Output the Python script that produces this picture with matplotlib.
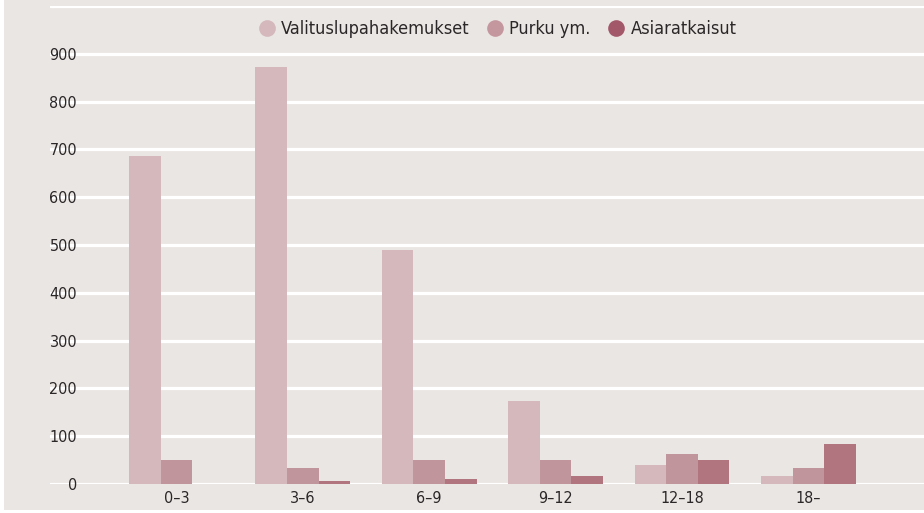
import matplotlib.pyplot as plt
import numpy as np
from matplotlib import font_manager
from matplotlib.lines import Line2D
from matplotlib.patches import Rectangle

# data
categories = ['0–3', '3–6', '6–9', '9–12', '12–18', '18–']
series_names = ['Valituslupahakemukset', 'Purku ym.', 'Asiaratkaisut']
valitus = [686, 872, 490, 174, 40, 17]
purku = [50, 33, 50, 50, 63, 33]
asia = [0, 6, 10, 17, 50, 84]
y_ticks = [0, 100, 200, 300, 400, 500, 600, 700, 800, 900, 1000]
y_labels = ['0', '100', '200', '300', '400', '500', '600', '700', '800', '900', '']

bar_colors = ['#D4B8BC', '#C0959B', '#B0757F']
legend_colors = ['#D4B8BC', '#C4979E', '#A3586A']
bg = '#EAE6E3'
text_col = '#2B2728'

# look for a narrow / condensed face, the reference uses a condensed font
narrow = None
for f in font_manager.fontManager.ttflist:
    if f.name == 'Liberation Sans Narrow' and f.weight in (400, 'normal', 'regular'):
        narrow = font_manager.FontProperties(fname=f.fname)
        break
if narrow is None:
    for f in font_manager.fontManager.ttflist:
        if 'condensed' in str(f.stretch).lower() and f.style == 'normal' \
                and f.weight in (400, 'normal', 'regular'):
            narrow = font_manager.FontProperties(fname=f.fname)
            break
if narrow is None:
    narrow = font_manager.FontProperties(family='DejaVu Sans')

W, H = 924, 513
fig = plt.figure(figsize=(W / 100, H / 100), dpi=100)
fig.patch.set_facecolor('white')
fig.patches.append(Rectangle((4 / W, 3 / H), 1, 1, transform=fig.transFigure,
                             facecolor=bg, edgecolor='none', zorder=-10))

ax = fig.add_axes([50 / W, 29 / H, 874 / W, 478 / H])
ax.set_facecolor('none')

x = np.arange(len(categories))
width = 0.25
for i, vals in enumerate([valitus, purku, asia]):
    ax.bar(x + (i - 1) * width, vals, width, color=bar_colors[i],
           linewidth=0, zorder=2)

ax.set_xlim(-1.0, 5.915)
ax.set_ylim(0, 1000)
ax.set_yticks(y_ticks)
ax.set_yticklabels(y_labels)
ax.set_xticks(x)
ax.set_xticklabels(categories)
ax.yaxis.grid(True, color='white', linewidth=2.3, zorder=1)
ax.set_axisbelow(True)
for s in ax.spines.values():
    s.set_visible(False)
ax.tick_params(axis='y', length=0, pad=-19.5, labelcolor=text_col)
ax.tick_params(axis='x', length=0, pad=5, labelcolor=text_col)
for t in ax.get_yticklabels() + ax.get_xticklabels():
    t.set_fontproperties(narrow)
    t.set_fontsize(11.5)
for t in ax.get_yticklabels():
    t.set_horizontalalignment('right')

handles = [Line2D([], [], marker='o', linestyle='none', markersize=12,
                  markerfacecolor=c, markeredgecolor='none') for c in legend_colors]
leg_font = narrow.copy()
leg_font.set_size(13)
fig.legend(handles, series_names, loc='center', ncol=3, frameon=False,
           bbox_to_anchor=(497 / W, 1 - 29 / H), prop=leg_font,
           handletextpad=0.3, columnspacing=0.9, labelcolor=text_col,
           handlelength=1.0)

fig.savefig('out.png', dpi=100, facecolor=fig.get_facecolor())
